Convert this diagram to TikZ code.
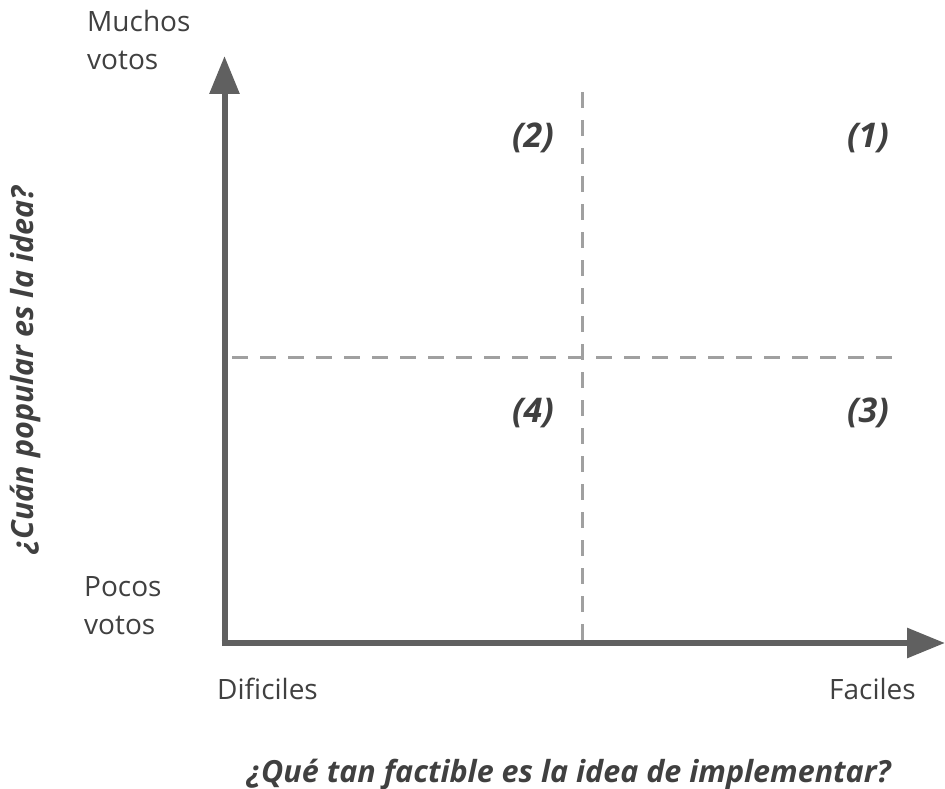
\documentclass[tikz,border=0pt]{standalone}
\usepackage{fontspec}
\setmainfont{Open Sans}
\usetikzlibrary{arrows.meta}
\definecolor{txt}{HTML}{404040}
\definecolor{axis}{HTML}{606060}
\definecolor{dash}{HTML}{A0A0A0}
\tikzset{
  axisline/.style={draw=axis, line width=6pt, -{Triangle[length=38pt,width=29pt]}},
  dashline/.style={draw=dash, line width=3pt, dash pattern=on 16pt off 12pt},
  lbl/.style={text=txt, inner sep=0pt, font=\fontsize{28}{38}\selectfont, align=left},
  quad/.style={text=txt, inner sep=0pt, font=\fontsize{34}{40}\selectfont\bfseries\itshape},
  title/.style={text=txt, inner sep=0pt, font=\fontsize{30.5}{36}\selectfont\bfseries\itshape},
}
\begin{document}
\begin{tikzpicture}[x=1pt,y=-1pt]
\useasboundingbox (0,0) rectangle (945,789);
\coordinate (O) at (224.5,643);
\coordinate (Ostart) at (221.5,643);
\coordinate (Ybot) at (224.5,646);
\coordinate (Ytop) at (224.5,56);
\coordinate (Xend) at (945,643);
\coordinate (Vtop) at (582,92);
\coordinate (Vbot) at (582,640);
\coordinate (Hl) at (232,357);
\coordinate (Hr) at (895,357);
\draw[dashline] (Vtop) -- (Vbot);
\draw[dashline] (Hl) -- (Hr);
\draw[axisline] (Ybot) -- (Ytop);
\draw[axisline] (Ostart) -- (Xend);
\node[lbl, anchor=north west] (muchos) at (87,10) {Muchos\\votos};
\node[lbl, anchor=north west] (pocos) at (84,576) {Pocos\\votos};
\node[lbl, anchor=base west] (dif) at (217,699) {Dificiles};
\node[lbl, anchor=base east] (fac) at (916,699) {Faciles};
\node[quad] (q2) at (533,138) {(2)};
\node[quad] (q1) at (868,138) {(1)};
\node[quad] (q4) at (533,413) {(4)};
\node[quad] (q3) at (868,413) {(3)};
\node[title] (xt) at (569,774) {¿Qué tan factible es la idea de implementar?};
\node[title, rotate=90] (yt) at (25,370) {¿Cuán popular es la idea?};
\end{tikzpicture}
\end{document}
